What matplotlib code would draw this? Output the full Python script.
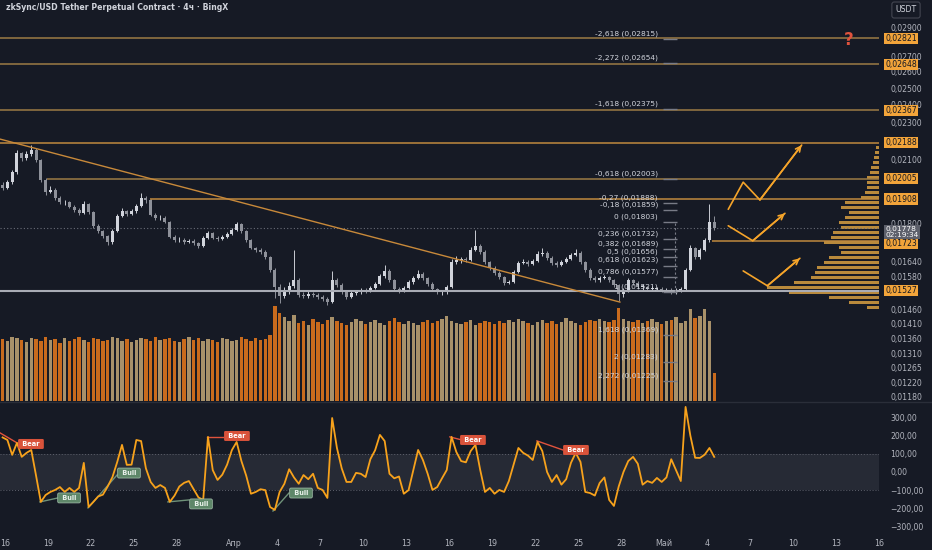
import numpy as np
import pandas as pd
import matplotlib
matplotlib.use("Agg")
import matplotlib.pyplot as plt
import matplotlib.dates as mdates
from matplotlib.lines import Line2D
from matplotlib.ticker import NullLocator, NullFormatter

plt.rcParams["font.family"] = ["DejaVu Sans"]

# ─── DATA ────────────────────────────────────────────────────────────────────

# 8h bars (centre times), zkSync/USDT perpetual
bar_times = pd.date_range("2025-03-15 20:00", periods=150, freq="8h")

first_open = 0.01975
closes = [
    0.01960, 0.01989, 0.02038, 0.02134, 0.02109, 0.02129, 0.02149, 0.02098, 0.01999, 0.01941,
    0.01951, 0.01913, 0.01894, 0.01894, 0.01872, 0.01858, 0.01845, 0.01885, 0.01849, 0.01787,
    0.01765, 0.01744, 0.01719, 0.01765, 0.01831, 0.01853, 0.01840, 0.01853, 0.01876, 0.01913,
    0.01904, 0.01836, 0.01822, 0.01822, 0.01805, 0.01740, 0.01727, 0.01727, 0.01719, 0.01723,
    0.01715, 0.01702, 0.01736, 0.01757, 0.01736, 0.01731, 0.01740, 0.01753, 0.01770, 0.01796,
    0.01765, 0.01727, 0.01694, 0.01686, 0.01678, 0.01657, 0.01606, 0.01541, 0.01507, 0.01522,
    0.01544, 0.01567, 0.01511, 0.01507, 0.01515, 0.01511, 0.01504, 0.01496, 0.01485, 0.01567,
    0.01548, 0.01522, 0.01504, 0.01518, 0.01522, 0.01529, 0.01526, 0.01537, 0.01552, 0.01582,
    0.01602, 0.01567, 0.01533, 0.01526, 0.01537, 0.01559, 0.01575, 0.01590, 0.01575, 0.01552,
    0.01533, 0.01522, 0.01522, 0.01541, 0.01637, 0.01645, 0.01649, 0.01645, 0.01686, 0.01702,
    0.01678, 0.01637, 0.01614, 0.01594, 0.01579, 0.01556, 0.01559, 0.01598, 0.01633, 0.01637,
    0.01629, 0.01641, 0.01669, 0.01673, 0.01653, 0.01633, 0.01625, 0.01637, 0.01649, 0.01665,
    0.01673, 0.01637, 0.01606, 0.01575, 0.01567, 0.01575, 0.01579, 0.01567, 0.01548, 0.01515,
    0.01529, 0.01567, 0.01556, 0.01541, 0.01541, 0.01533, 0.01533, 0.01533, 0.01529, 0.01529,
    0.01522, 0.01529, 0.01533, 0.01606, 0.01694, 0.01657, 0.01686, 0.01727, 0.01805, 0.01778,
]
highs = [
    0.01990, 0.02000, 0.02050, 0.02150, 0.02140, 0.02145, 0.02175, 0.02160, 0.02105, 0.02010,
    0.01970, 0.01960, 0.01920, 0.01905, 0.01900, 0.01880, 0.01865, 0.01900, 0.01890, 0.01855,
    0.01795, 0.01770, 0.01750, 0.01775, 0.01840, 0.01865, 0.01860, 0.01862, 0.01885, 0.01935,
    0.01920, 0.01910, 0.01845, 0.01835, 0.01830, 0.01810, 0.01748, 0.01738, 0.01735, 0.01732,
    0.01730, 0.01720, 0.01745, 0.01765, 0.01762, 0.01745, 0.01748, 0.01760, 0.01778, 0.01805,
    0.01800, 0.01770, 0.01732, 0.01700, 0.01692, 0.01685, 0.01662, 0.01612, 0.01550, 0.01540,
    0.01560, 0.01686, 0.01575, 0.01520, 0.01525, 0.01522, 0.01518, 0.01510, 0.01502, 0.01600,
    0.01575, 0.01555, 0.01528, 0.01525, 0.01530, 0.01536, 0.01535, 0.01545, 0.01560, 0.01590,
    0.01625, 0.01608, 0.01572, 0.01540, 0.01545, 0.01566, 0.01582, 0.01605, 0.01596, 0.01580,
    0.01558, 0.01538, 0.01530, 0.01548, 0.01650, 0.01660, 0.01658, 0.01656, 0.01700, 0.01770,
    0.01712, 0.01684, 0.01642, 0.01620, 0.01600, 0.01584, 0.01568, 0.01605, 0.01640, 0.01650,
    0.01645, 0.01650, 0.01680, 0.01695, 0.01680, 0.01660, 0.01640, 0.01645, 0.01656, 0.01672,
    0.01690, 0.01680, 0.01642, 0.01612, 0.01582, 0.01582, 0.01586, 0.01584, 0.01572, 0.01552,
    0.01538, 0.01575, 0.01572, 0.01562, 0.01550, 0.01546, 0.01545, 0.01542, 0.01540, 0.01538,
    0.01536, 0.01537, 0.01540, 0.01615, 0.01705, 0.01700, 0.01695, 0.01735, 0.01885, 0.01830,
]
lows = [
    0.01950, 0.01955, 0.01980, 0.02030, 0.02095, 0.02100, 0.02120, 0.02090, 0.01990, 0.01925,
    0.01935, 0.01905, 0.01885, 0.01880, 0.01865, 0.01850, 0.01835, 0.01840, 0.01840, 0.01780,
    0.01755, 0.01735, 0.01705, 0.01712, 0.01760, 0.01825, 0.01830, 0.01835, 0.01845, 0.01870,
    0.01890, 0.01830, 0.01815, 0.01812, 0.01798, 0.01735, 0.01720, 0.01718, 0.01712, 0.01714,
    0.01708, 0.01695, 0.01698, 0.01730, 0.01730, 0.01725, 0.01726, 0.01735, 0.01748, 0.01765,
    0.01758, 0.01720, 0.01688, 0.01678, 0.01670, 0.01650, 0.01598, 0.01500, 0.01480, 0.01500,
    0.01515, 0.01538, 0.01505, 0.01498, 0.01500, 0.01503, 0.01497, 0.01488, 0.01475, 0.01480,
    0.01540, 0.01515, 0.01495, 0.01498, 0.01512, 0.01515, 0.01519, 0.01520, 0.01532, 0.01548,
    0.01576, 0.01560, 0.01526, 0.01518, 0.01520, 0.01532, 0.01553, 0.01570, 0.01568, 0.01545,
    0.01526, 0.01514, 0.01512, 0.01516, 0.01536, 0.01628, 0.01635, 0.01636, 0.01640, 0.01680,
    0.01670, 0.01630, 0.01606, 0.01588, 0.01572, 0.01548, 0.01550, 0.01554, 0.01592, 0.01628,
    0.01622, 0.01624, 0.01636, 0.01662, 0.01646, 0.01626, 0.01618, 0.01620, 0.01632, 0.01644,
    0.01660, 0.01630, 0.01598, 0.01568, 0.01560, 0.01560, 0.01570, 0.01560, 0.01540, 0.01490,
    0.01505, 0.01522, 0.01548, 0.01534, 0.01530, 0.01525, 0.01524, 0.01524, 0.01520, 0.01520,
    0.01514, 0.01515, 0.01522, 0.01528, 0.01600, 0.01650, 0.01650, 0.01680, 0.01720, 0.01770,
]
volumes = [
    62, 60, 64, 63, 61, 59, 63, 62, 60, 64,
    61, 62, 58, 63, 60, 62, 64, 61, 59, 63,
    62, 60, 61, 64, 63, 60, 62, 59, 61, 63,
    62, 60, 64, 61, 62, 63, 60, 59, 62, 64,
    61, 63, 60, 62, 61, 59, 63, 62, 60, 61,
    64, 62, 60, 63, 61, 62, 66, 95, 88, 84,
    80, 86, 78, 80, 76, 82, 79, 77, 81, 84,
    80, 78, 76, 79, 82, 80, 77, 79, 81, 78,
    76, 80, 83, 79, 77, 80, 78, 76, 79, 81,
    78, 80, 82, 85, 80, 78, 77, 79, 81, 76,
    78, 80, 79, 77, 80, 78, 81, 79, 82, 80,
    78, 76, 79, 81, 78, 80, 77, 79, 83, 80,
    78, 76, 79, 81, 80, 82, 80, 79, 81, 93,
    82, 80, 79, 81, 78, 80, 82, 79, 77, 80,
    81, 84, 78, 80, 92, 83, 85, 92, 80, 28,
]
osc = [
    190, 176, 94, 160, 83, 105, 121, -20, -165, -127,
    -110, -99, -83, -110, -88, -110, -88, 50, -193, -165,
    -135, -125, -80, -28, 55, 149, 39, 40, 176, 170,
    20, -55, -88, -72, -88, -165, -130, -80, -60, -50,
    -95, -140, -154, 193, 10, -44, -15, 40, 120, 165,
    60, -20, -120, -110, -95, -100, -193, -209, -110, -65,
    15, -30, -65, -17, -40, -10, -88, -99, -143, 297,
    132, 20, -55, -55, -5, -10, -28, 70, 120, 204,
    170, -10, -35, -25, -120, -100, 10, 121, 66, -10,
    -99, -83, -35, 11, 193, 110, 60, 53, 115, 149,
    11, -110, -88, -120, -99, -110, -50, 40, 132, 105,
    90, 66, 165, 115, 0, -55, -17, -70, -40, 50,
    105, 55, -110, -116, -130, -61, -30, -154, -187, -80,
    0, 60, 83, 45, -70, -50, -60, -33, -55, -30,
    70, 10, -50, 358, 200, 78, 77, 95, 132, 83,
]

# volume profile (fixed range) on the right edge
vp_prices = [0.02163, 0.02137, 0.02111, 0.02086, 0.02060, 0.02036, 0.02011, 0.01987, 0.01963,
             0.01939, 0.01915, 0.01892, 0.01869, 0.01847, 0.01824, 0.01802, 0.01781, 0.01759,
             0.01738, 0.01717, 0.01696, 0.01675, 0.01655, 0.01635, 0.01615, 0.01596, 0.01577,
             0.01557, 0.01539, 0.01520, 0.01502, 0.01483, 0.01466]
vp_volume = [3, 4, 5, 6, 8, 9, 12, 12, 12, 14, 18, 34, 38, 30, 34, 40, 38, 46, 48, 55, 40,
             38, 50, 55, 62, 64, 68, 85, 112, 90, 50, 30, 12]

# horizontal levels drawn by hand (price, start time)
level_prices = [0.02821, 0.02648, 0.02367, 0.02188, 0.02005, 0.01908, 0.01723]
level_starts = ["2025-03-15 12:00", "2025-03-15 12:00", "2025-03-15 12:00", "2025-03-15 12:00",
                "2025-03-18 22:00", "2025-03-26 03:00", "2025-05-04 08:00"]
support_price = 0.01527
last_price = 0.01778
countdown = "02:19:34"

# fibonacci levels
fib_ratios = ["-2,618", "-2,272", "-1,618", "-0,618", "-0,27", "-0,18", "0", "0,236", "0,382",
              "0,5", "0,618", "0,786", "1", "1,618", "2", "2,272", "2,618"]
fib_prices = [0.02815, 0.02654, 0.02375, 0.02003, 0.01888, 0.01859, 0.01803, 0.01732, 0.01689,
              0.01656, 0.01623, 0.01577, 0.01521, 0.01369, 0.01283, 0.01225, 0.01155]

# descending trend line
trend_times = ["2025-03-15 15:30", "2025-04-27 22:00"]
trend_prices = [0.02208, 0.01485]

# scenario arrows
arrow_paths = [
    (["2025-05-05 11:30", "2025-05-06 12:30", "2025-05-07 16:30", "2025-05-10 14:30"],
     [0.01861, 0.01988, 0.01904, 0.02176]),
    (["2025-05-05 11:30", "2025-05-07 04:30", "2025-05-09 10:30"],
     [0.01788, 0.01724, 0.01843]),
    (["2025-05-06 12:30", "2025-05-08 05:00", "2025-05-10 11:30"],
     [0.01602, 0.01545, 0.01652]),
]

# divergence signals on the oscillator: (line start, line end, label position)
bear_signals = [
    (("2025-03-15 15:40", 215), ("2025-03-16 20:10", 160), ("2025-03-17 19:30", 154)),
    (("2025-03-30 02:30", 193), ("2025-03-31 05:00", 193), ("2025-04-01 04:30", 198)),
    (("2025-04-16 01:10", 193), ("2025-04-16 21:20", 176), ("2025-04-17 15:50", 176)),
    (("2025-04-22 03:00", 171), ("2025-04-23 22:30", 121), ("2025-04-24 20:25", 121)),
]
bull_signals = [
    (("2025-03-18 10:30", -165), ("2025-03-19 16:50", -143), ("2025-03-20 11:15", -143)),
    (("2025-03-21 19:00", -198), ("2025-03-23 19:40", -17), ("2025-03-24 15:40", -6)),
    (("2025-03-27 08:50", -165), ("2025-03-28 20:10", -154), ("2025-03-29 16:20", -176)),
    (("2025-04-03 16:50", -215), ("2025-04-04 19:40", -116), ("2025-04-05 15:50", -116)),
]

price_ticks = [0.029, 0.027, 0.026, 0.025, 0.024, 0.023, 0.021, 0.018, 0.0164, 0.0158,
               0.0146, 0.0141, 0.0136, 0.0131, 0.01265, 0.0122, 0.0118]
osc_ticks = [300, 200, 100, 0, -100, -200, -300]
date_ticks = ["2025-03-16", "2025-03-19", "2025-03-22", "2025-03-25", "2025-03-28", "2025-04-01",
              "2025-04-04", "2025-04-07", "2025-04-10", "2025-04-13", "2025-04-16", "2025-04-19",
              "2025-04-22", "2025-04-25", "2025-04-28", "2025-05-01", "2025-05-04", "2025-05-07",
              "2025-05-10", "2025-05-13", "2025-05-16"]
date_labels = ["16", "19", "22", "25", "28", "Апр", "4", "7", "10", "13", "16", "19", "22",
               "25", "28", "Май", "4", "7", "10", "13", "16"]

# ─── STYLE ───────────────────────────────────────────────────────────────────

BG = "#161a25"
TXT = "#b2b5be"
LIGHT = "#d1d4dc"
ORANGE = "#f5a42a"
LEVEL = "#9c7b45"
W, H = 932, 550
PANE_R, MAIN_B, OSC_B = 879, 401, 535


def t(s):
    return mdates.date2num(pd.Timestamp(s))


def rect(top, bottom):
    return [0, 1 - bottom / H, PANE_R / W, (bottom - top) / H]


def comma(v, nd=5):
    return f"{v:.{nd}f}".replace(".", ",").replace("-", "\u2212")


fig = plt.figure(figsize=(W / 100, H / 100), dpi=100, facecolor=BG)
ax_vol = fig.add_axes(rect(0, MAIN_B))
ax = fig.add_axes(rect(0, MAIN_B), sharex=ax_vol)
ax.set_yscale("log")
ax.set_ylim(0.011673, 0.030970)
ax_vp = fig.add_axes(rect(0, MAIN_B), sharey=ax)
ax_osc = fig.add_axes(rect(MAIN_B + 1, OSC_B), sharex=ax_vol)

ax_vol.set_zorder(0)
ax_vp.set_zorder(1)
ax.set_zorder(2)
for a in (ax_vol, ax, ax_vp, ax_osc):
    a.patch.set_alpha(0)
    for s in a.spines.values():
        s.set_visible(False)

x0 = t("2025-03-16")
ax.set_xlim(x0 - 0.349, x0 + 61.0)

# ─── CANDLES + VOLUME ────────────────────────────────────────────────────────

xs = mdates.date2num(bar_times.to_pydatetime())
c = np.array(closes)
o = np.array([first_open] + closes[:-1])
up = c >= o
body_lo = np.minimum(o, c)
body_h = np.maximum(np.abs(c - o), 0.00002)

ax.vlines(xs, lows, highs, color=np.where(up, "#c9ccd4", "#8e919a"), lw=0.7, zorder=3)
ax.bar(xs, body_h, bottom=body_lo, width=0.21, color=np.where(up, "#d1d4dc", "#8e919a"),
       lw=0, zorder=4)

ax_vol.bar(xs, volumes, width=0.24, color=np.where(up, "#a8916a", "#c96b1d"), lw=0)
ax_vol.set_ylim(0, MAIN_B)
ax_vol.axis("off")

# ─── VOLUME PROFILE ──────────────────────────────────────────────────────────

vp = np.array(vp_prices)
ax_vp.barh(vp, vp_volume, height=vp * 0.0085, left=0, color="#b98a3c", lw=0)
ax_vp.set_xlim(PANE_R, 0)
ax_vp.axis("off")

# ─── LEVELS, TREND, FIB ──────────────────────────────────────────────────────

xmax = x0 + 61.0
for p, s in zip(level_prices, level_starts):
    col = "#c08a3e" if p in (0.02188, 0.01908, 0.01723) else LEVEL
    ax.hlines(p, t(s), xmax, color=col, lw=1.1, zorder=5)
ax.axhline(support_price, color="#a9acb5", lw=1.5, zorder=5)
ax.axhline(last_price, color="#6a6d78", lw=0.8, ls=(0, (1, 2)), zorder=2)

ax.plot([t(s) for s in trend_times], trend_prices, color="#c8893a", lw=1.0, zorder=5)

fx_lab, fx_a, fx_b = t("2025-04-30 13:40"), t("2025-04-30 22:00"), t("2025-05-01 21:30")
for r, p in zip(fib_ratios, fib_prices):
    ax.hlines(p, fx_a, fx_b, color="#787b86", lw=1.0, zorder=6)
    ax.annotate(f"{r} ({comma(p)})", (fx_lab, p), xytext=(0, 1.5), textcoords="offset points",
                ha="right", va="bottom", fontsize=5.4, color=LIGHT, zorder=7)
ax.vlines(t("2025-05-01 18:00"), fib_prices[12], fib_prices[6], color="#787b86", lw=0.8,
          ls=(0, (2, 2)), zorder=6)

for times, prices in arrow_paths:
    px = [t(s) for s in times]
    ax.plot(px, prices, color=ORANGE, lw=1.2, zorder=8, solid_capstyle="round")
    ax.annotate("", xy=(px[-1], prices[-1]), xytext=(px[-2], prices[-2]),
                arrowprops=dict(arrowstyle="->", color=ORANGE, lw=1.2, mutation_scale=9,
                                shrinkA=0, shrinkB=0), zorder=8)

ax.text(t("2025-05-13 22:00"), 0.02810, "?", color="#e0533d", fontsize=12, fontweight="bold",
        ha="center", va="center", zorder=8)

# price scale
ax.yaxis.tick_right()
ax.yaxis.set_minor_locator(NullLocator())
ax.yaxis.set_minor_formatter(NullFormatter())
ax.set_yticks(price_ticks)
ax.set_yticklabels([comma(v) for v in price_ticks])
ax.tick_params(axis="y", length=0, pad=8, labelsize=5.6, labelcolor=TXT)
ax.tick_params(axis="x", bottom=False, labelbottom=False)

ytr = ax.get_yaxis_transform()
for p in level_prices + [support_price]:
    dy = -2.0 if p == 0.01723 else 0
    ax.annotate(comma(p), (1.007, p), xycoords=ytr, xytext=(0, dy), textcoords="offset points",
                ha="left", va="center", fontsize=5.6, color="#131722", zorder=10,
                annotation_clip=False,
                bbox=dict(boxstyle="square,pad=0.15", fc="#f2a43a", ec="none"))
ax.annotate(f"{comma(last_price)}\n{countdown}", (1.007, last_price), xycoords=ytr,
            xytext=(0, -3.0), textcoords="offset points", ha="left", va="center",
            fontsize=5.4, color="white", linespacing=1.05, zorder=11, annotation_clip=False,
            bbox=dict(boxstyle="square,pad=0.15", fc="#5d606b", ec="none"))

# ─── OSCILLATOR ──────────────────────────────────────────────────────────────

ax_osc.set_ylim(-347, 385)
ax_osc.axhspan(-100, 100, color="#262a35", lw=0, zorder=0)
for lv in (100, -100):
    ax_osc.axhline(lv, color="#5d606b", lw=0.7, ls=(0, (1, 2)), zorder=1)
ax_osc.plot(xs, osc, color="#f7a21c", lw=1.3, zorder=3)

for a, b, lab in bear_signals:
    ax_osc.plot([t(a[0]), t(b[0])], [a[1], b[1]], color="#e0533d", lw=1.0, zorder=2)
    ax_osc.text(t(lab[0]), lab[1], " Bear ", ha="center", va="center", fontsize=4.8,
                fontweight="bold", color="white", zorder=5,
                bbox=dict(boxstyle="round,pad=0.3,rounding_size=0.2", fc="#d9533b", ec="none"))
for a, b, lab in bull_signals:
    ax_osc.plot([t(a[0]), t(b[0])], [a[1], b[1]], color="#6f9279", lw=1.0, zorder=2)
    ax_osc.text(t(lab[0]), lab[1], " Bull ", ha="center", va="center", fontsize=4.8,
                fontweight="bold", color="#e8f0ea", zorder=5,
                bbox=dict(boxstyle="round,pad=0.3,rounding_size=0.2", fc="#5e8769",
                          ec="#a5c2ad", lw=0.5))

ax_osc.yaxis.tick_right()
ax_osc.set_yticks(osc_ticks)
ax_osc.set_yticklabels([comma(v, 2) for v in osc_ticks])
ax_osc.tick_params(axis="y", length=0, pad=8, labelsize=5.6, labelcolor=TXT)
ax_osc.set_xticks([t(d) for d in date_ticks])
ax_osc.set_xticklabels(date_labels)
ax_osc.tick_params(axis="x", length=0, pad=3, labelsize=5.8, labelcolor=TXT)
ax_osc.set_xlim(x0 - 0.349, x0 + 61.0)

# ─── CHROME ──────────────────────────────────────────────────────────────────

fig.add_artist(Line2D([0, 1], [1 - 401.5 / H] * 2, color="#2a2e39", lw=1.0))
fig.text(6 / W, 1 - 8 / H, "zkSync/USD Tether Perpetual Contract · 4ч · BingX", fontsize=5.6,
         fontweight="bold", color=LIGHT, ha="left", va="center")
fig.text(906 / W, 1 - 10 / H, "USDT", fontsize=5.6, color=LIGHT, ha="center", va="center",
         bbox=dict(boxstyle="round,pad=0.45,rounding_size=0.3", fc=BG, ec="#434651", lw=0.8))

fig.savefig("out.png", dpi=100, facecolor=BG)
